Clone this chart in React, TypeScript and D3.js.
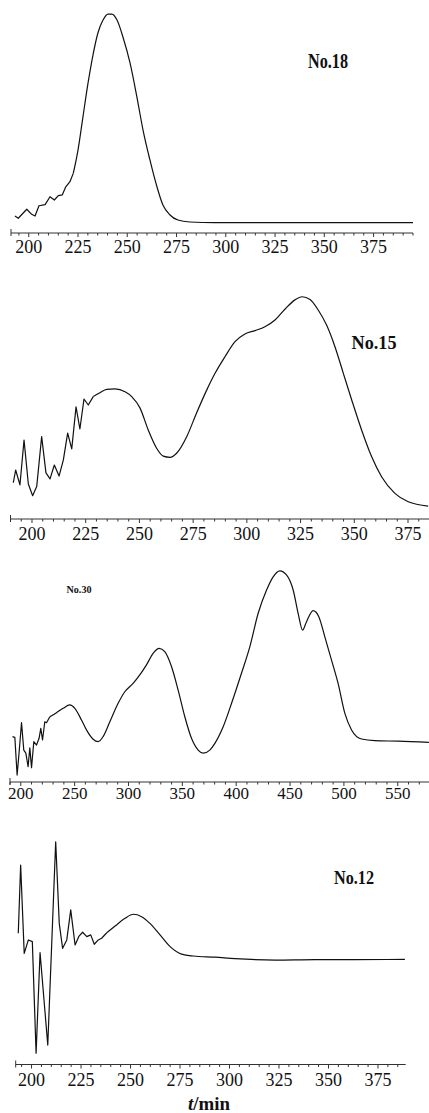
import React from "react";
import { scaleLinear, line, curveMonotoneX, curveLinear, range } from "d3";

// retention time (min) and signal
const t18 = [193.0, 194.7, 199.0, 201.5, 203.2, 205.2, 208.3, 210.8, 213.0, 215.0, 217.0, 218.8, 220.9, 222.6, 225.0, 227.5, 230.1, 232.6, 235.1, 237.7, 240.2, 242.2, 244.8, 247.8, 251.4, 254.9, 258.0, 261.5, 265.1, 268.1, 271.7, 275.7, 281.8, 294.5, 395];
const v18 = [7.7, 6.7, 10.8, 8.5, 7.7, 12.4, 12.9, 16.5, 15.0, 17.0, 17.3, 21.0, 23.3, 27.1, 37.7, 52.7, 68.2, 80.9, 90.9, 96.8, 99.5, 99.5, 96.8, 89.1, 77.3, 61.8, 46.8, 33.2, 20.9, 12.7, 8.2, 5.9, 5.0, 4.7, 4.7];

const t15 = [191.3, 192.4, 194.4, 196.3, 198.3, 200.3, 202.2, 204.5, 206.5, 208.4, 210.4, 212.6, 214.6, 216.6, 218.5, 220.5, 222.3, 224.2, 226.2, 228.5, 231.6, 234.8, 238.6, 243.3, 246.4, 250.3, 254.1, 258.0, 261.1, 264.2, 267.3, 272.0, 276.6, 281.3, 285.2, 289.8, 294.5, 299.1, 303.8, 308.4, 313.1, 317.7, 322.4, 325.8, 329.4, 333.2, 337.1, 341.0, 344.9, 348.8, 353.4, 358.1, 362.7, 368.9, 375.1, 384.4];
const v15 = [15.1, 20.4, 14.2, 32.9, 14.6, 9.7, 13.5, 34.3, 19.2, 16.7, 22.5, 17.9, 24.6, 35.8, 29.2, 46.7, 37.5, 50.0, 47.5, 51.0, 52.6, 54.0, 54.2, 53.0, 51.0, 46.2, 37.1, 29.5, 26.2, 25.7, 27.4, 34.3, 44.2, 53.7, 60.7, 67.6, 73.9, 77.1, 78.5, 80.1, 82.9, 87.4, 91.3, 92.6, 91.5, 87.1, 80.8, 71.8, 60.7, 49.6, 37.1, 25.9, 17.6, 10.7, 7.2, 5.4];

const t30 = [192.3, 194.5, 196.6, 198.4, 200.7, 202.8, 204.7, 206.8, 208.4, 210.0, 212.1, 214.6, 217.0, 218.6, 220.2, 222.3, 223.9, 227.0, 233.2, 239.3, 245.5, 250.2, 256.4, 261.0, 267.2, 271.8, 276.4, 282.7, 290.4, 296.6, 304.3, 310.5, 316.7, 322.9, 328.4, 333.7, 340.0, 346.1, 352.3, 358.5, 364.7, 369.3, 375.5, 380.2, 387.9, 395.7, 404.9, 412.7, 420.4, 428.2, 434.3, 440.5, 446.7, 452.9, 457.5, 461.6, 465.3, 471.4, 476.7, 482.3, 488.5, 494.6, 500.9, 507.1, 516.4, 528.7, 550.4, 578.9];
const v30 = [18.9, 18.6, 2.9, 12.1, 24.7, 13.3, 12.0, 6.4, 14.2, 6.0, 16.8, 15.4, 18.2, 22.4, 17.5, 25.1, 24.7, 27.2, 28.9, 30.7, 32.1, 30.7, 25.8, 21.7, 17.8, 16.8, 18.9, 25.1, 32.8, 37.6, 41.1, 44.6, 48.8, 53.6, 55.7, 54.3, 48.0, 38.3, 27.2, 18.2, 13.3, 12.0, 13.3, 16.1, 23.0, 32.8, 45.3, 56.4, 70.3, 80.0, 85.5, 88.0, 86.3, 80.0, 70.3, 63.3, 66.8, 71.4, 68.9, 60.5, 50.8, 41.1, 28.6, 21.7, 17.9, 17.2, 17.0, 16.5];

const t12 = [193.3, 194.5, 196.3, 198.4, 200.4, 202.3, 204.3, 208.2, 212.2, 214.0, 215.7, 217.8, 219.8, 222.0, 224.0, 225.8, 227.9, 229.9, 231.7, 233.7, 235.4, 238.0, 242.2, 247.2, 251.4, 255.6, 259.8, 264.9, 270.0, 275.8, 281.7, 292.7, 302.8, 323.0, 343.2, 363.4, 388.6];
const v12 = [54.7, 83.1, 46.3, 51.9, 51.2, 4.7, 46.6, 8.1, 92.8, 58.8, 48.4, 51.9, 64.4, 49.8, 53.5, 55.1, 53.3, 54.0, 50.1, 51.9, 52.6, 54.9, 57.7, 60.9, 62.6, 61.6, 58.8, 54.0, 49.1, 46.0, 45.2, 44.7, 44.1, 43.5, 43.7, 43.7, 43.8];

// where the jagged start of each trace gives way to the smooth band
const smoothFrom = [222.6, 228.5, 227.0, 238.0];

const serif = "'Liberation Serif', 'Times New Roman', serif";

const panels = [
  { name: "No.18", t: t18, v: v18, domain: [191, 395], x0: 11, x1: 413, axisY: 233, h: 220, minor: 5, major: 25, fs: 18, lblDy: 20,
    label: { x: 328, y: 68, fs: 20, len: 40 } },
  { name: "No.15", t: t15, v: v15, domain: [190, 385], x0: 10.5, x1: 429.5, axisY: 519, h: 240, minor: 5, major: 25, fs: 18, lblDy: 21,
    label: { x: 374, y: 349, fs: 19, len: 45 } },
  { name: "No.30", t: t30, v: v30, domain: [190, 579], x0: 10, x1: 429, axisY: 782, h: 240, minor: 10, major: 50, fs: 17, lblDy: 17,
    label: { x: 79, y: 593, fs: 11, len: 25 } },
  { name: "No.12", t: t12, v: v12, domain: [192, 389], x0: 15.7, x1: 405.7, axisY: 1064.5, h: 240, minor: 5, major: 25, fs: 18, lblDy: 21.5,
    label: { x: 354, y: 884, fs: 19, len: 40 } },
];

function Panel({ p, cut }: { p: any; cut: number }) {
  const x = scaleLinear().domain(p.domain).range([p.x0, p.x1]);
  const y = scaleLinear().domain([0, 100]).range([p.axisY, p.axisY - p.h]);
  const pts = p.t.map((t: number, i: number) => [t, p.v[i]]);
  const rough = pts.filter((d: number[]) => d[0] <= cut);
  const smooth = pts.filter((d: number[]) => d[0] >= cut);
  const mk = (curve: any) =>
    line<any>()
      .x((d) => x(d[0]))
      .y((d) => y(d[1]))
      .curve(curve);

  const start = Math.ceil(p.domain[0] / p.minor) * p.minor;
  const ticks = range(start, p.domain[1] + 0.001, p.minor);

  return (
    <g>
      <path d={mk(curveLinear)(rough) || ""} fill="none" stroke="#111" strokeWidth={1.2} strokeLinejoin="round" />
      <path d={mk(curveMonotoneX)(smooth) || ""} fill="none" stroke="#111" strokeWidth={1.2} />
      <line x1={p.x0} x2={p.x1} y1={p.axisY} y2={p.axisY} stroke="#333" strokeWidth={1} />
      <line x1={p.x0} x2={p.x0} y1={p.axisY - 4} y2={p.axisY + 3} stroke="#333" strokeWidth={1} />
      {ticks.map((t: number) => {
        const isMajor = t % p.major === 0;
        return (
          <g key={t}>
            <line x1={x(t)} x2={x(t)} y1={p.axisY} y2={p.axisY + (isMajor ? 4 : 2.5)} stroke="#333" strokeWidth={1} />
            {isMajor && (
              <text x={x(t)} y={p.axisY + p.lblDy} textAnchor="middle" fontFamily={serif} fontSize={p.fs} fill="#111">
                {t}
              </text>
            )}
          </g>
        );
      })}
      <text x={p.label.x} y={p.label.y} textAnchor="middle" fontWeight="bold" fontFamily={serif} fontSize={p.label.fs}
        textLength={p.label.len} lengthAdjust="spacingAndGlyphs" fill="#111">
        {p.name}
      </text>
    </g>
  );
}

export default function App() {
  return (
    <svg width={429} height={1113} style={{ position: "absolute", left: 0, top: 0, background: "#fff" }}>
      {panels.map((p, i) => (
        <Panel key={p.name} p={p} cut={smoothFrom[i]} />
      ))}
      <text x={209} y={1110} textAnchor="middle" fontFamily={serif} fontSize={18} fontWeight="bold"
        textLength={42} lengthAdjust="spacingAndGlyphs" fill="#111">
        <tspan fontStyle="italic">t</tspan>/min
      </text>
    </svg>
  );
}
